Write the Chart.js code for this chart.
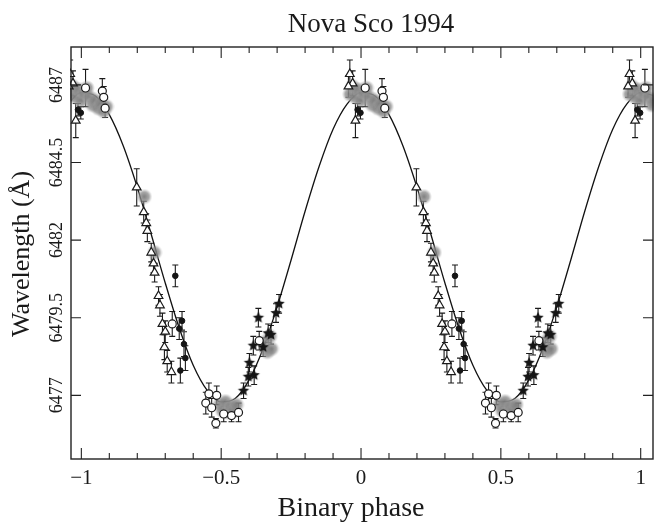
<!DOCTYPE html>
<html>
<head>
<meta charset="utf-8">
<script src="https://cdn.jsdelivr.net/npm/chart.js@4.4.0/dist/chart.umd.min.js"></script>
<style>
    html, body { margin: 0; padding: 0; background: #fff; overflow: hidden; }
</style>
</head>
<body>
<canvas id="chart" width="662" height="525"></canvas>
<script>
// Courbe ajustée (lue sur la figure, pas de 0.05 en phase)
const curvePhase = [-1.05, -1.00, -0.95, -0.90, -0.85, -0.80, -0.75, -0.70, -0.65, -0.60, -0.55,
    -0.50, -0.45, -0.40, -0.35, -0.30, -0.25, -0.20, -0.15, -0.10, -0.05,
    0.00, 0.05, 0.10, 0.15, 0.20, 0.25, 0.30, 0.35, 0.40, 0.45,
    0.50, 0.55, 0.60, 0.65, 0.70, 0.75, 0.80, 0.85, 0.90, 0.95, 1.00, 1.05];
const curveWave = [6486.38, 6486.75, 6486.64, 6486.04, 6485.03, 6483.70, 6482.18, 6480.62, 6479.17, 6477.97, 6477.16,
    6476.79, 6476.90, 6477.50, 6478.51, 6479.85, 6481.36, 6482.93, 6484.37, 6485.57, 6486.38,
    6486.75, 6486.64, 6486.04, 6485.03, 6483.70, 6482.18, 6480.62, 6479.17, 6477.97, 6477.16,
    6476.79, 6476.90, 6477.50, 6478.51, 6479.85, 6481.36, 6482.93, 6484.37, 6485.57, 6486.38, 6486.75, 6486.64];

// Mesures (phase sur un cycle, repliées sur deux cycles au tracé)
const greyPhase = [-0.04, -0.03, -0.02, -0.01, 0.00, 0.01, 0.02, 0.03, 0.04, 0.05, 0.06, 0.07, 0.08, 0.09,
    0.225, 0.262, 0.495, 0.505, 0.515, 0.525, 0.535, 0.545, 0.555, 0.655, 0.665, 0.675, 0.68];
const greyWave = [6486.7, 6486.95, 6486.6, 6486.85, 6486.5, 6486.75, 6486.9, 6486.6, 6486.35, 6486.5, 6486.25, 6486.4, 6486.15, 6486.3,
    6483.4, 6481.6, 6476.7, 6476.5, 6476.8, 6476.45, 6476.65, 6476.5, 6476.7, 6478.7, 6478.4, 6478.9, 6478.5];

const triPhase = [-0.04, -0.03, -0.045, -0.02, 0.198, 0.223, 0.232, 0.236, 0.25, 0.258, 0.262, 0.276, 0.281,
    0.29, 0.30, 0.297, 0.307, 0.322];
const triWave = [6487.35, 6487.05, 6486.95, 6485.85, 6483.7, 6482.9, 6482.55, 6482.3, 6481.6, 6481.25, 6480.95, 6480.2, 6479.9,
    6479.3, 6479.05, 6478.55, 6478.1, 6477.75];
const triErr = [0.45, 0.4, 0.35, 0.55, 0.6, 0.35, 0.3, 0.35, 0.3, 0.3, 0.3, 0.3, 0.35,
    0.35, 0.35, 0.4, 0.35, 0.35];

const circPhase = [0.015, 0.075, 0.08, 0.085, 0.325, 0.445, 0.456, 0.466, 0.481, 0.484, 0.509, 0.537, 0.562, 0.636];
const circWave = [6486.9, 6486.8, 6486.6, 6486.25, 6479.3, 6476.75, 6477.05, 6476.6, 6476.1, 6477.0, 6476.4, 6476.35, 6476.45, 6478.76];
const circErr = [0.6, 0.4, 0.35, 0.3, 0.4, 0.35, 0.35, 0.3, 0.15, 0.3, 0.25, 0.2, 0.3, 0.3];

const dotPhase = [-0.012, -0.002, 0.336, 0.35, 0.36, 0.367, 0.372, 0.354];
const dotWave = [6486.2, 6486.1, 6480.85, 6479.15, 6479.4, 6478.65, 6478.2, 6477.8];
const dotErr = [0.2, 0.2, 0.35, 0.35, 0.3, 0.4, 0.4, 0.4];

const starPhase = [0.58, 0.597, 0.601, 0.615, 0.618, 0.633, 0.65, 0.668, 0.678, 0.696, 0.707];
const starWave = [6477.15, 6477.6, 6478.05, 6478.6, 6477.65, 6479.5, 6478.55, 6479.0, 6478.95, 6479.65, 6479.95];
const starErr = [0.25, 0.3, 0.3, 0.3, 0.3, 0.3, 0.3, 0.3, 0.3, 0.3, 0.3];

// Graduations
const xTicks = [-1, -0.5, 0, 0.5, 1];
const xTickLabels = ['\u22121', '\u22120.5', '0', '0.5', '1'];
const xMinorTicks = [-1, -0.9, -0.8, -0.7, -0.6, -0.5, -0.4, -0.3, -0.2, -0.1, 0, 0.1, 0.2, 0.3, 0.4, 0.5, 0.6, 0.7, 0.8, 0.9, 1];
const yTicks = [6477, 6479.5, 6482, 6484.5, 6487];
const yTickLabels = ['6477', '6479.5', '6482', '6484.5', '6487'];

const xMin = -1.037, xMax = 1.044;
const yMin = 6474.95, yMax = 6488.22;
const serif = '"Liberation Serif", "DejaVu Serif", serif';

// Replie les points sur deux cycles
function fold(phase, wave, err) {
    const pts = [];
    const errs = [];
    [-1, 0, 1].forEach(function(k) {
        phase.forEach(function(p, i) {
            const x = p + k;
            if (x < xMin - 0.03 || x > xMax + 0.03) return;
            pts.push({ x: x, y: wave[i] });
            errs.push(err ? err[i] : 0);
        });
    });
    return { pts: pts, errs: errs };
}

// Symboles dessinés à la main
function makeStar(r) {
    const c = document.createElement('canvas');
    c.width = c.height = r * 2 + 2;
    const g = c.getContext('2d');
    g.beginPath();
    for (let i = 0; i < 10; i++) {
        const a = -Math.PI / 2 + i * Math.PI / 5;
        const rr = i % 2 === 0 ? r : r * 0.45;
        g.lineTo(r + 1 + rr * Math.cos(a), r + 1 + rr * Math.sin(a));
    }
    g.closePath();
    g.fillStyle = '#151515';
    g.fill();
    return c;
}

function makeBlob(r) {
    const c = document.createElement('canvas');
    c.width = c.height = r * 2;
    const g = c.getContext('2d');
    const grad = g.createRadialGradient(r, r, 0, r, r, r);
    grad.addColorStop(0, 'rgba(120,120,120,0.95)');
    grad.addColorStop(0.6, 'rgba(140,140,140,0.75)');
    grad.addColorStop(1, 'rgba(170,170,170,0)');
    g.fillStyle = grad;
    g.fillRect(0, 0, r * 2, r * 2);
    return c;
}

const grey = fold(greyPhase, greyWave, null);
const tri = fold(triPhase, triWave, triErr);
const circ = fold(circPhase, circWave, circErr);
const dot = fold(dotPhase, dotWave, dotErr);
const star = fold(starPhase, starWave, starErr);

// Barres d'erreur
const errorBars = {
    id: 'errorBars',
    beforeDatasetsDraw(chart) {
        const ctx = chart.ctx;
        const xs = chart.scales.x, ys = chart.scales.y;
        const area = chart.chartArea;
        ctx.save();
        ctx.beginPath();
        ctx.rect(area.left, area.top, area.right - area.left, area.bottom - area.top);
        ctx.clip();
        ctx.strokeStyle = '#1a1a1a';
        ctx.lineWidth = 1.1;
        chart.data.datasets.forEach(function(ds) {
            if (!ds.errors) return;
            ds.data.forEach(function(p, i) {
                const e = ds.errors[i];
                if (!e) return;
                const px = xs.getPixelForValue(p.x);
                const y1 = ys.getPixelForValue(p.y + e);
                const y2 = ys.getPixelForValue(p.y - e);
                ctx.beginPath();
                ctx.moveTo(px, y1); ctx.lineTo(px, y2);
                ctx.moveTo(px - 3, y1); ctx.lineTo(px + 3, y1);
                ctx.moveTo(px - 3, y2); ctx.lineTo(px + 3, y2);
                ctx.stroke();
            });
        });
        ctx.restore();
    }
};

// Cadre, graduations internes et textes
const frame = {
    id: 'frame',
    afterDraw(chart) {
        const ctx = chart.ctx;
        const xs = chart.scales.x, ys = chart.scales.y;
        const a = chart.chartArea;
        ctx.save();
        ctx.strokeStyle = '#222';
        ctx.lineWidth = 1.4;
        ctx.strokeRect(a.left, a.top, a.right - a.left, a.bottom - a.top);

        ctx.lineWidth = 1.1;
        ctx.beginPath();
        xMinorTicks.forEach(function(t) {
            const px = xs.getPixelForValue(t);
            const len = xTicks.indexOf(t) >= 0 ? 11 : 6;
            ctx.moveTo(px, a.bottom); ctx.lineTo(px, a.bottom - len);
            ctx.moveTo(px, a.top); ctx.lineTo(px, a.top + len);
        });
        yTicks.forEach(function(t) {
            const py = ys.getPixelForValue(t);
            ctx.moveTo(a.left, py); ctx.lineTo(a.left + 10, py);
            ctx.moveTo(a.right, py); ctx.lineTo(a.right - 10, py);
        });
        ctx.stroke();

        ctx.fillStyle = '#1a1a1a';
        ctx.font = '21px ' + serif;
        ctx.textAlign = 'center';
        ctx.textBaseline = 'middle';
        xTicks.forEach(function(t, i) {
            ctx.fillText(xTickLabels[i], xs.getPixelForValue(t), 478);
        });

        yTicks.forEach(function(t, i) {
            ctx.save();
            ctx.translate(57, ys.getPixelForValue(t));
            ctx.rotate(-Math.PI / 2);
            ctx.font = '18px ' + serif;
            ctx.fillText(yTickLabels[i], 0, 0);
            ctx.restore();
        });

        ctx.font = '28px ' + serif;
        ctx.fillText('Binary phase', 351, 509);
        ctx.font = '27px ' + serif;
        ctx.fillText('Nova Sco 1994', 371, 25);

        ctx.save();
        ctx.translate(22, 254);
        ctx.rotate(-Math.PI / 2);
        ctx.font = '26px ' + serif;
        ctx.fillText('Wavelength (\u00C5)', 0, 0);
        ctx.restore();
        ctx.restore();
    }
};

new Chart(document.getElementById('chart').getContext('2d'), {
    type: 'scatter',
    data: {
        datasets: [
            {
                label: 'stars', data: star.pts, errors: star.errs,
                pointStyle: makeStar(6), pointRadius: 6, clip: 1
            },
            {
                label: 'dots', data: dot.pts, errors: dot.errs,
                pointStyle: 'circle', pointRadius: 2.8, backgroundColor: '#151515', borderColor: '#151515', clip: 1
            },
            {
                label: 'circles', data: circ.pts, errors: circ.errs,
                pointStyle: 'circle', pointRadius: 4, backgroundColor: '#fff', borderColor: '#1a1a1a', borderWidth: 1.2, clip: 1
            },
            {
                label: 'triangles', data: tri.pts, errors: tri.errs,
                pointStyle: 'triangle', pointRadius: 5, backgroundColor: '#fff', borderColor: '#1a1a1a', borderWidth: 1.2, clip: 1
            },
            {
                label: 'grey', data: grey.pts,
                pointStyle: makeBlob(8), pointRadius: 8, clip: 1
            },
            {
                label: 'fit', type: 'line',
                data: curvePhase.map(function(p, i) { return { x: p, y: curveWave[i] }; }),
                borderColor: '#111', borderWidth: 1.3, pointRadius: 0,
                cubicInterpolationMode: 'monotone', fill: false, clip: 0
            }
        ]
    },
    options: {
        responsive: false,
        animation: false,
        layout: { padding: { left: 71, top: 47, right: 4, bottom: 66 } },
        plugins: {
            legend: { display: false },
            tooltip: { enabled: false }
        },
        scales: {
            x: { type: 'linear', min: xMin, max: xMax, display: false },
            y: { type: 'linear', min: yMin, max: yMax, display: false }
        }
    },
    plugins: [errorBars, frame]
});
</script>
</body>
</html>
